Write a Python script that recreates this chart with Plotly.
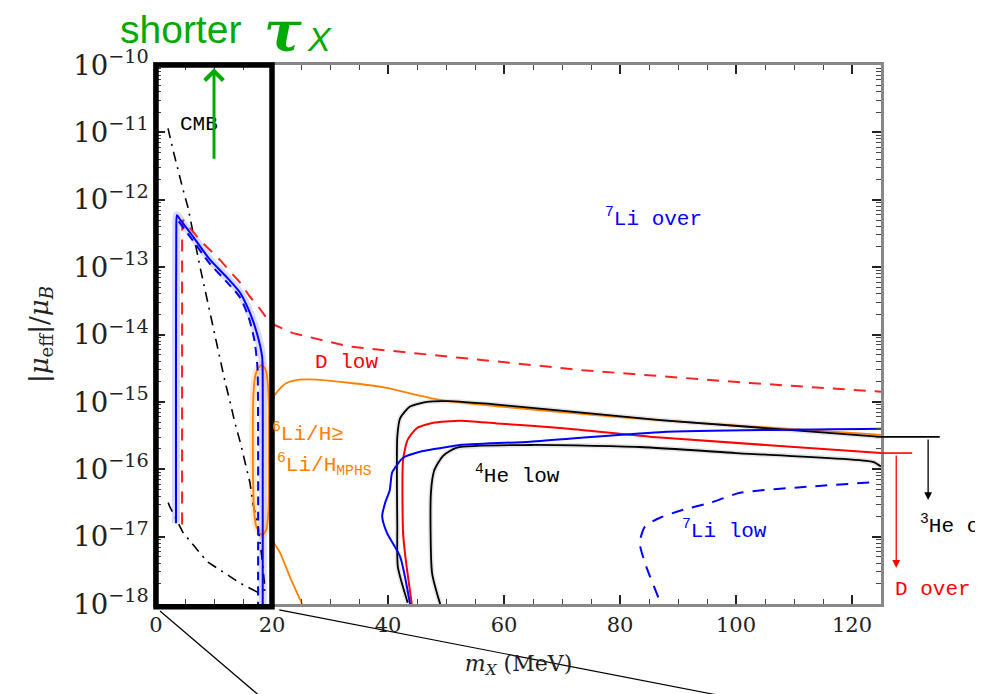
import plotly.graph_objects as go

# ---------------- data (x in MeV, y as log10 of |mu_eff|/mu_B) ----------------
cmb_x = [2.07, 2.93, 4.66, 5.5, 7.6, 9.0, 10.5, 11.9, 12.8, 13.6, 14.5, 15.3, 16.2, 16.7, 17.6, 18.3, 18.8,
         17.4, 14.5, 8.8, 4.66, 2.4, 1.9]
cmb_logy = [-10.94, -11.26, -11.85, -12.11, -13.0, -13.56, -14.12, -14.70, -15.01, -15.31, -15.59, -15.86,
            -16.20, -16.50, -16.85, -17.34, -17.79, -17.82, -17.69, -17.37, -16.94, -16.56, -16.45]

blue_box_x = [3.45, 3.45, 3.5, 3.6, 4.2, 5.9, 9.3, 12.2, 14.5, 16.2, 17.4, 18.3, 18.4, 18.4, 18.4]
blue_box_logy = [-16.8, -14.5, -12.5, -12.23, -12.3, -12.49, -12.89, -13.15, -13.38, -13.68, -13.98,
                 -14.33, -14.72, -16.0, -18.0]

bluedash_box_x = [3.9, 5.9, 9.3, 12.2, 14.5, 16.0, 17.0, 17.5, 17.6, 17.6]
bluedash_box_logy = [-12.32, -12.55, -12.95, -13.22, -13.45, -13.75, -14.1, -14.5, -15.5, -18.0]

blue_x = [43.8, 42.1, 39.8, 39.0, 39.5, 40.3, 40.7, 41.6, 42.6, 45.5, 50.2, 52.4, 64.5, 86.9, 125]
blue_logy = [-18.0, -17.3, -16.94, -16.7, -16.5, -16.31, -16.05, -15.93, -15.83, -15.74, -15.67, -15.64,
             -15.59, -15.45, -15.40]

li7low_x = [86.6, 84.3, 83.4, 84.3, 86.9, 90.9, 95.5, 100.7, 112.2, 124.3]
li7low_logy = [-17.9, -17.39, -17.09, -16.85, -16.72, -16.60, -16.50, -16.35, -16.26, -16.19]

reddash_x = [4.5, 4.5, 4.5, 4.66, 7.6, 11.0, 14.5, 16.2, 17.4, 19.7, 23.6, 33.4, 50.7, 73.6, 102.4, 125]
reddash_logy = [-16.82, -14.5, -12.45, -12.30, -12.60, -12.89, -13.23, -13.44, -13.56, -13.83, -13.98,
                -14.18, -14.33, -14.53, -14.72, -14.85]

red_x = [44.1, 43.0, 42.6, 42.6, 43.4, 45.0, 47.8, 52.4, 58.8, 70.2, 86.9, 125]
red_logy = [-18.0, -17.3, -16.94, -15.86, -15.56, -15.39, -15.31, -15.28, -15.32, -15.39, -15.53, -15.76]

black_outer_x = [43.4, 41.7, 41.6, 41.6, 42.1, 43.8, 46.7, 50.2, 58.8, 86.9, 125]
black_outer_logy = [-17.98, -17.45, -16.85, -15.52, -15.24, -15.07, -15.0, -14.99, -15.04, -15.27, -15.52]

black_inner_x = [49.0, 47.6, 47.4, 48.0, 49.5, 51.9, 64.5, 83.4, 100, 123.6, 125]
black_inner_logy = [-18.0, -17.54, -16.35, -16.01, -15.80, -15.68, -15.64, -15.67, -15.76, -15.89, -15.96]

orange_loop_x = [17.6, 18.3, 19.0, 19.4, 19.5, 19.4, 19.0, 18.3, 17.3, 16.9, 16.7, 16.8, 17.1, 17.6]
orange_loop_logy = [-14.5, -14.45, -14.55, -14.9, -15.8, -16.6, -16.9, -16.98, -16.85, -16.6, -15.7,
                    -14.9, -14.62, -14.5]

orange_x = [25.2, 23.1, 21.4, 20.3, 19.7, 19.6, 20.2, 20.9, 22.5, 24.8, 27.8, 39.1, 49.0, 86.9, 125]
orange_logy = [-18.0, -17.6, -17.24, -17.08, -16.8, -15.2, -14.95, -14.85, -14.72, -14.67, -14.67,
               -14.78, -14.97, -15.27, -15.49]

he3_limit_logy = -15.52
d_over_limit_logy = -15.76
zoom_box_x = [0, 20]

x_range = [0, 125]
y_range_log = [-18, -10]
x_ticks = [0, 20, 40, 60, 80, 100, 120]

# labels: (text, x, log10 y, colour)
labels = [
    ("CMB", 3.8, -10.89, "black"),
    ("<sup>7</sup>Li over", 77.1, -12.27, "blue"),
    ("D low", 27.0, -14.42, "red"),
    ("<sup>6</sup>Li/H≥", 19.6, -15.45, "#ff8000"),
    ("<sup>6</sup>Li/H<sub>MPHS</sub>", 20.5, -15.93, "#ff8000"),
    ("<sup>4</sup>He low", 54.7, -16.08, "black"),
    ("<sup>7</sup>Li low", 90.3, -16.9, "blue"),
]

# ---------------- figure ----------------
ORANGE = "#ff8000"


def ylin(v):
    return [10 ** a for a in v]


def px_(xv):
    return (xv - x_range[0]) / (x_range[1] - x_range[0])


def py_(lv):
    return (lv - y_range_log[0]) / (y_range_log[1] - y_range_log[0])


fig = go.Figure()


def add(x, ly, color, width=2, dash=None, shape="spline", smooth=0.6):
    fig.add_trace(go.Scatter(
        x=x, y=ylin(ly), mode="lines",
        line=dict(color=color, width=width, dash=dash, shape=shape,
                  smoothing=smooth if shape == "spline" else None),
        hoverinfo="skip", showlegend=False))


# halos
add(blue_box_x, blue_box_logy, "rgba(0,0,255,0.15)", width=8)
add(orange_loop_x, orange_loop_logy, "rgba(255,128,0,0.18)", width=7)
add(black_inner_x, black_inner_logy, "rgba(0,0,0,0.10)", width=5)
add(black_outer_x, black_outer_logy, "rgba(0,0,0,0.10)", width=5)

add(cmb_x, cmb_logy, "black", width=1.6, dash="10px,6px,2px,6px", shape="linear")
add(orange_loop_x, orange_loop_logy, ORANGE, width=1.8)
add(orange_x, orange_logy, ORANGE, width=1.8)
add(black_outer_x, black_outer_logy, "black", width=1.8)
add(black_inner_x, black_inner_logy, "black", width=1.8)
add(reddash_x, reddash_logy, "#ff2020", width=2, dash="12px,9px", shape="linear")
add(red_x, red_logy, "red", width=2)
add(blue_box_x, blue_box_logy, "blue", width=2)
add(bluedash_box_x, bluedash_box_logy, "blue", width=2, dash="9px,6px")
add(blue_x, blue_logy, "blue", width=2)
add(li7low_x, li7low_logy, "blue", width=2, dash="12px,9px")

LFONT = "Liberation Mono"
for txt, x, ly, c in labels:
    fig.add_annotation(x=x, y=ly, xref="x", yref="y", text=txt, showarrow=False,
                       xanchor="left", yanchor="middle",
                       font=dict(family=LFONT, size=21, color=c))

# outside-plot limits and arrows
x_he3 = 1.065
x_dov = 1.021
fig.add_shape(type="line", xref="paper", yref="paper", x0=1.0, x1=1.081,
              y0=py_(he3_limit_logy), y1=py_(he3_limit_logy), line=dict(color="black", width=1.6))
fig.add_shape(type="line", xref="paper", yref="paper", x0=1.0, x1=1.043,
              y0=py_(d_over_limit_logy), y1=py_(d_over_limit_logy), line=dict(color="red", width=1.6))
fig.add_annotation(xref="paper", yref="paper", x=x_he3, y=0.193, ax=0, ay=-62, axref="pixel", ayref="pixel",
                   text="", showarrow=True, arrowhead=2, arrowsize=1.2, arrowwidth=1.3, arrowcolor="black")
fig.add_annotation(xref="paper", yref="paper", x=x_dov, y=0.067, ax=0, ay=-114, axref="pixel", ayref="pixel",
                   text="", showarrow=True, arrowhead=2, arrowsize=1.2, arrowwidth=1.3, arrowcolor="red")
fig.add_annotation(xref="paper", yref="paper", x=1.051, y=0.147, text="<sup>3</sup>He over",
                   showarrow=False, xanchor="left", yanchor="middle",
                   font=dict(family=LFONT, size=21, color="black"))
fig.add_annotation(xref="paper", yref="paper", x=1.0166, y=0.026, text="D over",
                   showarrow=False, xanchor="left", yanchor="middle",
                   font=dict(family=LFONT, size=21, color="red"))

# zoom box and connector lines
bx0, bx1 = px_(zoom_box_x[0]), px_(zoom_box_x[1])
fig.add_shape(type="rect", xref="paper", yref="paper", x0=bx0, x1=bx1, y0=-0.005, y1=1.0,
              line=dict(color="black", width=5.5), layer="above")
fig.add_shape(type="line", xref="paper", yref="paper", x0=0.0055, y0=-0.013, x1=0.1407, y1=-0.168,
              line=dict(color="black", width=1.2))
fig.add_shape(type="line", xref="paper", yref="paper", x0=0.170, y0=-0.011, x1=0.771, y1=-0.168,
              line=dict(color="black", width=1.2))

# green "shorter tau_X"
GREEN = "#00aa00"
fig.add_annotation(xref="paper", yref="paper", x=px_(10), y=0.994, ax=0, ay=92, axref="pixel", ayref="pixel",
                   text="", showarrow=True, arrowhead=4, arrowsize=1.2, arrowwidth=3, arrowcolor=GREEN)
fig.add_annotation(xref="paper", yref="paper", x=-0.053, y=1.066, text="shorter", showarrow=False,
                   xanchor="left", yanchor="middle",
                   font=dict(family="Liberation Sans", size=39, color=GREEN))
fig.add_annotation(xref="paper", yref="paper", x=0.146, y=1.064, text="<b><i>τ</i></b>", showarrow=False,
                   xanchor="left", yanchor="middle",
                   font=dict(family="DejaVu Serif", size=56, color=GREEN))
fig.add_annotation(xref="paper", yref="paper", x=0.206, y=1.048, text="<i>X</i>", showarrow=False,
                   xanchor="left", yanchor="middle",
                   font=dict(family="Liberation Sans", size=34, color=GREEN))

TFONT = "DejaVu Serif"
fig.update_xaxes(range=x_range, tickvals=x_ticks, ticks="inside", ticklen=9, tickwidth=1.5,
                 tickcolor="#222", showgrid=False, zeroline=False, showline=True, linecolor="#888",
                 linewidth=2.5, mirror="ticks",
                 minor=dict(ticks="inside", dtick=5, ticklen=5, tickcolor="#444", tickwidth=1.2),
                 tickfont=dict(family=TFONT, size=21, color="#222"),
                 title=dict(text="<i>m<sub>X</sub></i> (MeV)", font=dict(family=TFONT, size=22, color="#222"),
                            standoff=20))
fig.update_yaxes(type="log", range=y_range_log, dtick=1, exponentformat="power", ticks="inside",
                 ticklen=9, tickwidth=1.5, tickcolor="#222", showgrid=False, zeroline=False,
                 showline=True, linecolor="#888", linewidth=2.5, mirror="ticks",
                 minor=dict(ticks="inside", ticklen=5, tickcolor="#444", tickwidth=1.2),
                 tickfont=dict(family=TFONT, size=22, color="#222"),
                 title=dict(text="|<i>μ</i><sub>eff</sub>|/<i>μ</i><sub><i>B</i></sub>",
                            font=dict(family=TFONT, size=26, color="#222"), standoff=18))

# page body has an 8px margin, so the figure is offset by 8px in the window
fig.update_layout(width=975, height=686, margin=dict(l=148, r=102, t=57, b=90),
                  plot_bgcolor="white", paper_bgcolor="white", showlegend=False)

fig.write_html("out.html")
